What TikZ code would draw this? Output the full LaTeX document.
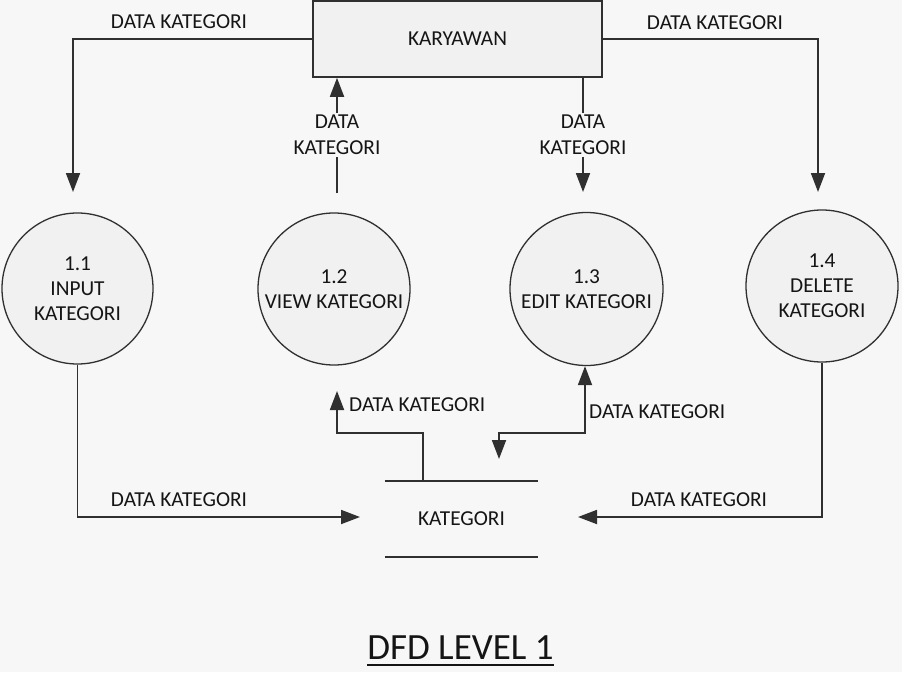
\documentclass[tikz,border=0pt]{standalone}
\usepackage{fontspec}
\setmainfont{Carlito}
\usetikzlibrary{arrows.meta}
\definecolor{bgc}{HTML}{F7F7F7}
\definecolor{linec}{HTML}{303030}
\definecolor{fillc}{HTML}{F1F1F1}
\definecolor{txtc}{HTML}{151515}
\tikzset{
  lbl/.style={font=\fontsize{21.3}{26}\selectfont, text=txtc, inner sep=0pt, align=center},
  lblbg/.style={lbl, fill=bgc, inner sep=2pt},
  proc/.style={circle, draw=linec, line width=1.3pt, fill=fillc, inner sep=0pt,
     font=\fontsize{21.3}{25}\selectfont, text=txtc, align=center},
  entity/.style={rectangle, draw=linec, line width=1.6pt, fill=fillc, inner sep=0pt,
     font=\fontsize{21.3}{25}\selectfont, text=txtc},
  flow/.style={draw=linec, line width=1.8pt, -{Triangle[length=19pt,width=14pt]}},
  flowboth/.style={draw=linec, line width=1.8pt, {Triangle[length=19pt,width=14pt]}-{Triangle[length=19pt,width=14pt]}},
  storeline/.style={draw=linec, line width=1.8pt},
}
\begin{document}
\begin{tikzpicture}[x=1pt, y=-1pt]
\useasboundingbox[fill=bgc] (0,0) rectangle (902,672);

% entity
\node[entity, minimum width=289pt, minimum height=76pt] (kary) at (457.5,39) {KARYAWAN};

% processes
\node[proc, minimum size=151pt] (p1) at (77.5,288.5) {1.1\\INPUT\\KATEGORI};
\node[proc, minimum size=152pt] (p2) at (334,289) {1.2\\VIEW KATEGORI};
\node[proc, minimum size=153pt] (p3) at (586.5,289) {1.3\\EDIT KATEGORI};
\node[proc, minimum size=152pt] (p4) at (822,286) {1.4\\DELETE\\KATEGORI};

% data store
\node[minimum width=153pt, minimum height=76pt, inner sep=0pt,
      font=\fontsize{21.3}{25}\selectfont, text=txtc] (store) at (461.5,519) {KATEGORI};
\draw[storeline] (store.north west) -- (store.north east);
\draw[storeline] (store.south west) -- (store.south east);

% free ends
\coordinate (c1) at (73,192);
\coordinate (c2) at (337,193);
\coordinate (c3) at (583,192);
\coordinate (c4) at (818,192);
\coordinate (c5) at (360,517);
\coordinate (c6) at (578,517);
\coordinate (k7) at (423,433);
\coordinate (c7) at (337,391);
\coordinate (k8) at (585,433);
\coordinate (c8) at (499,459);

% flows
\draw[flow] (kary.west) -| (c1);
\draw[flow] (c2) -- (kary.south -| c2);
\draw[flow] (kary.south -| c3) -- (c3);
\draw[flow] (kary.east) -| (c4);
\draw[flow] (p1.south) |- (c5);
\draw[flow] (p4.south) |- (c6);
\draw[flow] (store.north -| k7) -- (k7) -| (c7);
\draw[flowboth] (p3.south -| k8) -- (k8) -| (c8);

% labels
\node[lbl] (l1) at (179,22) {DATA KATEGORI};
\node[lbl] (l4) at (715,23) {DATA KATEGORI};
\node[lblbg] (l2) at (337,135) {DATA\\KATEGORI};
\node[lblbg] (l3) at (583,135) {DATA\\KATEGORI};
\node[lbl] (l5) at (179,500) {DATA KATEGORI};
\node[lbl] (l6) at (699,500) {DATA KATEGORI};
\node[lbl, anchor=west] (l7) at (349,405) {DATA KATEGORI};
\node[lbl, anchor=west] (l8) at (589,412) {DATA KATEGORI};

% title
\node[font=\fontsize{37}{44}\selectfont, text=txtc, inner sep=0pt, anchor=base] (title) at (460.5,659) {DFD LEVEL 1};
\draw[draw=txtc, line width=2.2pt] ([yshift=-6pt]title.base west) -- ([yshift=-6pt]title.base east);
\end{tikzpicture}
\end{document}
